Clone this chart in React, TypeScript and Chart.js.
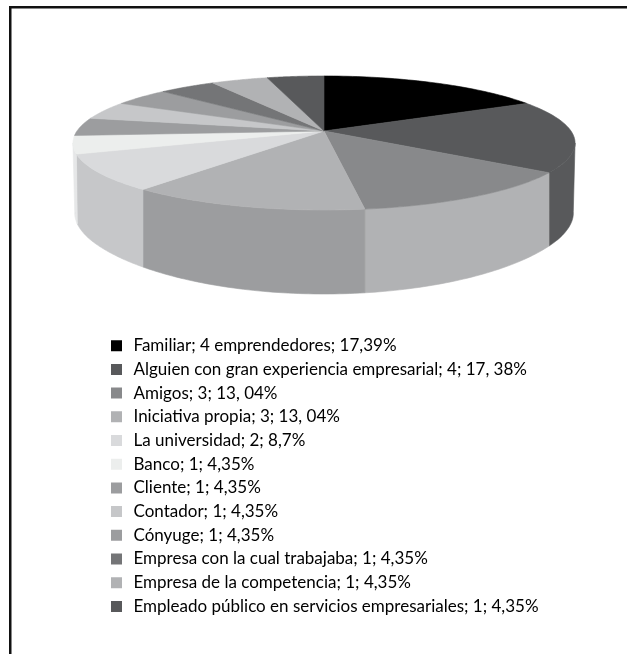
import React, { useEffect, useRef } from "react";
import { Chart, registerables } from "chart.js";

Chart.register(...registerables);

const categories = [
  "Familiar; 4 emprendedores; 17,39%",
  "Alguien con gran experiencia empresarial; 4; 17, 38%",
  "Amigos; 3; 13, 04%",
  "Iniciativa propia; 3; 13, 04%",
  "La universidad; 2; 8,7%",
  "Banco; 1; 4,35%",
  "Cliente; 1; 4,35%",
  "Contador; 1; 4,35%",
  "Cónyuge; 1; 4,35%",
  "Empresa con la cual trabajaba; 1; 4,35%",
  "Empresa de la competencia; 1; 4,35%",
  "Empleado público en servicios empresariales; 1; 4,35%",
];
const entrepreneurs = [4, 4, 3, 3, 2, 1, 1, 1, 1, 1, 1, 1];
const topColors = ["#000000", "#58595b", "#88898b", "#b1b2b4", "#d9dadc", "#eceeed", "#9c9d9f", "#c6c7c9", "#9c9d9f", "#747577", "#b1b2b4", "#58595b"];
const sideColors = ["#000000", "#58595b", "#b1b2b4", "#9c9d9f", "#c6c7c9", "#e6e7e8", "#9c9d9f", "#c6c7c9", "#9c9d9f", "#747577", "#b1b2b4", "#58595b"];

// Perspective of the disc
const CX = 324, CY = 131, RX = 247, RY = 64.85, K = 0.179;
const FRONT_START = Math.asin(K);
const FRONT_END = Math.PI - FRONT_START;

const project = (a: number) => {
  const X = Math.cos(a), Y = Math.sin(a), w = 1 - K * Y;
  return { x: CX + (RX * X) / w, y: CY + (RY * Y) / w, Y };
};
const projectBottom = (a: number) => {
  const p = project(a);
  const shrink = 1 - 0.011 * Math.max(0, 1 - 2 * Math.abs(p.Y));
  return { x: CX + (p.x - CX) * shrink, y: p.y + 68 + 16 * p.Y * p.Y };
};

const pie3d = {
  id: "pie3d",
  beforeDatasetsDraw(chart: any) {
    const ctx = chart.ctx;
    const arcs = chart.getDatasetMeta(0).data;
    const STEPS = 48;
    ctx.save();
    ctx.lineWidth = 0.6;
    ctx.lineJoin = "round";
    // walls: only the part of each slice that faces the viewer
    arcs.forEach((arc: any, i: number) => {
      const s = Math.max(arc.startAngle, FRONT_START);
      const e = Math.min(arc.endAngle, FRONT_END);
      if (e <= s) return;
      ctx.beginPath();
      for (let k = 0; k <= STEPS; k++) {
        const p = project(s + ((e - s) * k) / STEPS);
        k === 0 ? ctx.moveTo(p.x, p.y) : ctx.lineTo(p.x, p.y);
      }
      for (let k = STEPS; k >= 0; k--) {
        const p = projectBottom(s + ((e - s) * k) / STEPS);
        ctx.lineTo(p.x, p.y);
      }
      ctx.closePath();
      ctx.fillStyle = sideColors[i];
      ctx.strokeStyle = sideColors[i];
      ctx.fill();
      ctx.stroke();
    });
    // top face
    arcs.forEach((arc: any, i: number) => {
      const { startAngle: s, endAngle: e } = arc;
      ctx.beginPath();
      ctx.moveTo(CX, CY);
      for (let k = 0; k <= STEPS; k++) {
        const p = project(s + ((e - s) * k) / STEPS);
        ctx.lineTo(p.x, p.y);
      }
      ctx.closePath();
      ctx.fillStyle = topColors[i];
      ctx.strokeStyle = topColors[i];
      ctx.fill();
      ctx.stroke();
    });
    ctx.restore();
  },
  beforeDatasetDraw() {
    return false; // the slices are painted in perspective above
  },
  afterDraw(chart: any) {
    const ctx = chart.ctx;
    ctx.save();
    ctx.fillStyle = "#111111";
    ctx.fillRect(9, 6, chart.width - 9, 2.5);
    ctx.fillRect(9, 6, 2.5, chart.height - 6);
    ctx.restore();
  },
};

export default function App() {
  const ref = useRef<HTMLCanvasElement>(null);
  useEffect(() => {
    const chart = new Chart(ref.current!, {
      type: "pie",
      data: {
        labels: categories,
        datasets: [{ data: entrepreneurs, backgroundColor: topColors, borderWidth: 0 }],
      },
      options: {
        responsive: false,
        animation: false,
        layout: { padding: { left: 101.3, top: 330.5, bottom: 16, right: 0 } },
        plugins: {
          tooltip: { enabled: false },
          legend: {
            position: "left",
            align: "start",
            maxWidth: 500,
            labels: {
              boxWidth: 17,
              boxHeight: 17,
              padding: 6.7,
              color: "#231f20",
              font: { family: "Lato", size: 17 },
              generateLabels: (c: any) =>
                c.data.labels.map((text: string, i: number) => ({
                  text,
                  fillStyle: topColors[i],
                  strokeStyle: "#ffffff",
                  lineWidth: 6,
                  hidden: false,
                  index: i,
                })),
            },
          },
        },
      },
      plugins: [pie3d],
    } as any);
    return () => chart.destroy();
  }, []);
  return (
    <div style={{ position: "fixed", left: 0, top: 0, width: 627, height: 654, background: "#fff" }}>
      <canvas ref={ref} width={627} height={654} style={{ display: "block" }} />
    </div>
  );
}
